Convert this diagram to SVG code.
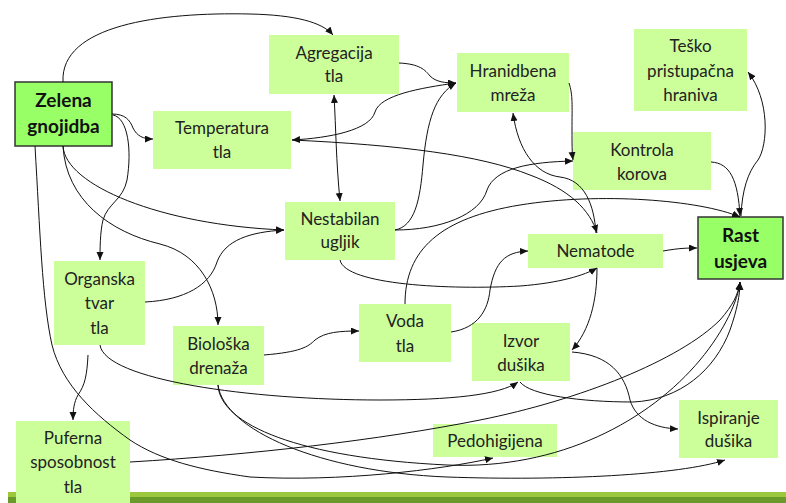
<svg xmlns="http://www.w3.org/2000/svg" width="786" height="503" viewBox="0 0 786 503">
<defs>
<marker id="ah" markerWidth="9" markerHeight="8" refX="8" refY="3.5" orient="auto-start-reverse" markerUnits="userSpaceOnUse">
<path d="M0,0 L8,3.5 L0,7 z" fill="#111"/>
</marker>
<style>
.n{fill:#ccff99;}
.k{fill:#99ff66;stroke:#333;stroke-width:1.5;}
.t{font-family:Lato,"Open Sans",sans-serif;font-size:17px;fill:#222;text-anchor:middle;}
.b{font-family:Lato,"Open Sans",sans-serif;font-size:19px;font-weight:bold;fill:#111;text-anchor:middle;}
.c path{fill:none;stroke:#111;stroke-width:1;}
.a{marker-end:url(#ah);}
.d{marker-start:url(#ah);marker-end:url(#ah);}
</style>
</defs>
<rect width="786" height="503" fill="#fff"/>
<rect x="8" y="492" width="778" height="5" fill="#9bc83c"/>
<rect x="8" y="497" width="778" height="6" fill="#6a9a2a"/>

<g id="zelena"><rect class="k" x="15" y="82" width="97" height="64"/><text class="b" x="63.5" y="107">Zelena</text><text class="b" x="63.5" y="133">gnojidba</text></g>
<g id="agregacija"><rect class="n" x="269" y="35" width="130" height="59"/><text class="t" x="334" y="59">Agregacija</text><text class="t" x="334" y="82">tla</text></g>
<g id="temperatura"><rect class="n" x="153" y="111" width="138" height="58"/><text class="t" x="222" y="134">Temperatura</text><text class="t" x="222" y="158">tla</text></g>
<g id="nestabilan"><rect class="n" x="285" y="202" width="110" height="58"/><text class="t" x="340" y="225">Nestabilan</text><text class="t" x="340" y="248">ugljik</text></g>
<g id="hranidbena"><rect class="n" x="457" y="53" width="112" height="59"/><text class="t" x="513" y="77">Hranidbena</text><text class="t" x="513" y="101">mreža</text></g>
<g id="tesko"><rect class="n" x="634" y="29" width="113" height="82"/><text class="t" x="690.5" y="52">Teško</text><text class="t" x="690.5" y="77">pristupačna</text><text class="t" x="690.5" y="101">hraniva</text></g>
<g id="kontrola"><rect class="n" x="573" y="132" width="138" height="58"/><text class="t" x="642" y="156">Kontrola</text><text class="t" x="642" y="180">korova</text></g>
<g id="rast"><rect class="k" x="698" y="217" width="85" height="62"/><text class="b" x="740.5" y="242">Rast</text><text class="b" x="740.5" y="268">usjeva</text></g>
<g id="nematode"><rect class="n" x="528" y="234" width="135" height="34"/><text class="t" x="595.5" y="257">Nematode</text></g>
<g id="organska"><rect class="n" x="54" y="261" width="91" height="84"/><text class="t" x="99.5" y="285">Organska</text><text class="t" x="99.5" y="309">tvar</text><text class="t" x="99.5" y="334">tla</text></g>
<g id="bioloska"><rect class="n" x="173" y="326" width="91" height="59"/><text class="t" x="218.5" y="350">Biološka</text><text class="t" x="218.5" y="374">drenaža</text></g>
<g id="voda"><rect class="n" x="359" y="304" width="92" height="58"/><text class="t" x="405" y="327">Voda</text><text class="t" x="405" y="352">tla</text></g>
<g id="izvor"><rect class="n" x="472" y="323" width="98" height="58"/><text class="t" x="521" y="347">Izvor</text><text class="t" x="521" y="371">dušika</text></g>
<g id="ispiranje"><rect class="n" x="679" y="400" width="99" height="58"/><text class="t" x="728.5" y="424">Ispiranje</text><text class="t" x="728.5" y="447">dušika</text></g>
<g id="pedohigijena"><rect class="n" x="433" y="424" width="124" height="33"/><text class="t" x="495" y="447">Pedohigijena</text></g>
<g id="puferna"><rect class="n" x="16" y="421" width="114" height="82"/><text class="t" x="73" y="444">Puferna</text><text class="t" x="73" y="468">sposobnost</text><text class="t" x="73" y="493">tla</text></g>

<g class="c" id="connectors">
<path class="a" d="M63,82 C60,25 160,12 250,14 C295,15 322,22 333,35"/>
<path class="a" d="M112,114 C125,114 130,120 133,128 C137,136 143,139 153,139"/>
<path class="a" d="M113,115 C128,118 132,150 127,180 C123,200 108,203 103,220 C100,232 100,250 100,260"/>
<path class="a" d="M63,146 C65,185 160,225 284,230"/>
<path class="a" d="M63,146 C66,200 110,232 160,244 C200,254 218,290 218,325"/>
<path class="a" d="M35,146 C40,230 42,300 52,345 C62,385 95,415 130,440 C160,460 200,470 250,477 C340,482 440,470 493,458"/>
<path class="a" d="M145,302 C185,300 210,285 217,262 C225,240 250,232 284,230"/>
<path class="a" d="M88,355 C87,375 85,385 78,395 C74,402 73,410 73,420"/>
<path class="a" d="M100,345 C105,380 250,400 380,400 C450,400 500,395 518,382"/>
<path class="a" d="M264,355 C300,352 308,347 315,340 C325,332 340,331 359,331"/>
<path class="a" d="M218,385 C220,425 300,458 447,465 C560,470 650,420 700,360 C725,330 738,300 740,282"/>
<path class="a" d="M218,385 C224,430 320,472 447,477 C560,481 680,475 725,460"/>
<path class="a" d="M130,462 C250,455 380,440 480,420 C580,400 680,360 720,320 C733,305 738,295 740,282"/>
<path class="a" d="M520,382 C530,395 580,402 633,402 C680,400 715,370 730,330 C737,310 740,295 740,282"/>
<path class="a" d="M597,268 C597,300 590,330 572,350"/>
<path class="a" d="M572,352 C610,355 625,375 630,400 C636,420 655,428 678,429"/>
<path class="a" d="M451,332 C478,328 488,310 490,290 C495,262 505,252 528,251"/>
<path class="a" d="M405,304 C405,250 440,218 520,205 C600,192 700,200 740,217"/>
<path class="a" d="M340,260 C345,285 450,290 520,286 C560,283 585,275 597,268"/>
<path class="a" d="M395,230 C415,226 420,200 423,165 C427,120 435,95 456,83"/>
<path class="a" d="M395,230 C440,230 480,215 487,190 C495,168 530,162 573,161"/>
<path class="a" d="M399,63 C420,64 425,70 430,76 C436,82 445,83 456,83"/>
<path class="a" d="M456,83 C420,88 380,95 375,112 C370,130 330,138 292,140"/>
<path class="d" d="M334,95 C336,130 336,160 340,201"/>
<path class="a" d="M292,140 C400,145 480,155 530,175 C570,190 590,210 597,233"/>
<path class="a" d="M596,233 C594,205 585,180 560,177 C535,174 518,150 513,113"/>
<path class="a" d="M569,83 C573,95 572,105 572,130 C572,145 572,152 573,160"/>
<path class="a" d="M711,162 C730,163 738,180 740,216"/>
<path class="a" d="M741,216 C742,190 748,172 758,160 C768,145 770,100 748,72"/>
<path class="a" d="M663,251 C680,248 688,248 697,248"/>
</g>
</svg>
